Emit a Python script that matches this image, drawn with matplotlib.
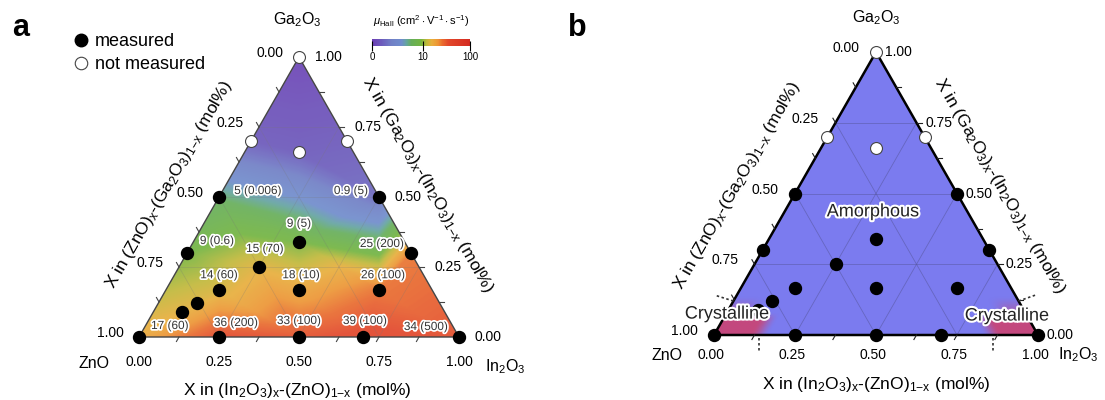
import numpy as np
import matplotlib.pyplot as plt
import matplotlib.tri as mtri
import matplotlib.patheffects as pe
from matplotlib.colors import LinearSegmentedColormap
from matplotlib.lines import Line2D
from matplotlib.patches import Polygon

plt.rcParams['font.family'] = ['Liberation Sans', 'DejaVu Sans']
plt.rcParams['mathtext.fontset'] = 'custom'
plt.rcParams['mathtext.rm'] = 'Liberation Sans'
plt.rcParams['mathtext.it'] = 'Liberation Sans:italic'
plt.rcParams['mathtext.bf'] = 'Liberation Sans:bold'

H = np.sqrt(3) / 2

# measured films: In2O3 and Ga2O3 mole fractions (ZnO is the remainder)
meas_in = [0.0, 0.5, 0.33, 0.0, 0.7, 0.25, 0.167, 0.417, 0.667, 0.12, 0.09, 0.0, 0.25, 0.5, 0.7, 1.0]
meas_ga = [0.5, 0.5, 0.34, 0.3, 0.3, 0.25, 0.167, 0.167, 0.167, 0.12, 0.09, 0.0, 0.0, 0.0, 0.0, 0.0]
# Hall mobility (cm2/Vs) and the value given in brackets
mu_hall = [5, 0.9, 9, 9, 25, 15, 14, 18, 26, np.nan, np.nan, 17, 36, 33, 39, 34]
n_carrier = [0.006, 5, 5, 0.6, 200, 70, 60, 10, 100, np.nan, np.nan, 60, 200, 100, 100, 500]

# compositions that were not measured
unmeas_in = [0.0, 0.0, 0.3, 0.17]
unmeas_ga = [1.0, 0.7, 0.7, 0.66]
# mobility level used to shade the map at the unmeasured compositions
mu_shade = [0.1, 0.5, 0.5, 0.5]

# limits of the crystalline corners in panel b
cryst_in = 0.14
cryst_ga = 0.12

cbar_ticks = [0, 10, 100]

# label offsets in pixels (dx, dy) for the mobility labels
label_off = [(39, 6), (-28, 6), (0, 18), (30, 12), (-29, 9), (6, 18), (0, 15), (2, 15),
             (4, 15), None, None, (31, 11), (17, 14), (0, 16), (2, 16), (-33, 10)]


def tern(inn, ga):
    inn = np.asarray(inn, float)
    ga = np.asarray(ga, float)
    return inn + ga / 2, ga * H


def pt(inn, ga):
    x, y = tern(inn, ga)
    return float(x), float(y)


def ramp(v, lo, hi):
    t = np.clip((hi - v) / (hi - lo), 0, 1)
    return t * t * (3 - 2 * t)


W, HP = 1105, 400
fig = plt.figure(figsize=(W / 100, HP / 100), dpi=100)


def add_tern_axes(left, base, width, height):
    ax = fig.add_axes([left / W, (HP - base) / HP, width / W, height / HP])
    ax.set_xlim(0, 1)
    ax.set_ylim(0, H)
    ax.set_axis_off()
    return ax


ax_a = add_tern_axes(139, 337, 320, 280)
ax_b = add_tern_axes(714, 335, 324, 283)

bottom_title = r'X in (In$_2$O$_3$)$_\mathrm{x}$-(ZnO)$_\mathrm{1{-}x}$ (mol%)'
left_title = r'X in (ZnO)$_\mathrm{x}$-(Ga$_2$O$_3$)$_\mathrm{1{-}x}$ (mol%)'
right_title = r'X in (Ga$_2$O$_3$)$_\mathrm{x}$-(In$_2$O$_3$)$_\mathrm{1{-}x}$ (mol%)'


def draw_frame(ax, edge_kw, grid_kw, tick_color, off):
    cx, cy = tern([0, 1, 0, 0], [0, 0, 1, 0])
    ax.plot(cx, cy, clip_on=False, zorder=4, solid_joinstyle='miter', **edge_kw)
    for v in (0.25, 0.5, 0.75):
        ax.plot(*tern([0, 1 - v], [v, v]), zorder=2, **grid_kw)
        ax.plot(*tern([v, v], [0, 1 - v]), zorder=2, **grid_kw)
        ax.plot(*tern([1 - v, 0], [0, 1 - v]), zorder=2, **grid_kw)
    # small outward ticks on the three axes
    L = 0.016
    for t in np.arange(0.125, 1.0, 0.125):
        for (x0, y0), (dx, dy) in ((pt(t, 0), (-0.5, -0.866)),
                                   (pt(0, 1 - t), (-0.5, 0.866)),
                                   (pt(1 - t, t), (1.0, 0.0))):
            ax.plot([x0, x0 + L * dx], [y0, y0 + L * dy], color=tick_color,
                    lw=0.8, clip_on=False, zorder=4)
    kw = dict(textcoords='offset pixels', ha='center', va='center', fontsize=10)
    for v in (0, 0.25, 0.5, 0.75, 1.0):
        ax.annotate(f'{v:.2f}', pt(v, 0), xytext=off['bottom'], **kw)
        ax.annotate(f'{v:.2f}', pt(0, 1 - v), xytext=off['left'], **kw)
        ax.annotate(f'{v:.2f}', pt(1 - v, v), xytext=off['right'], **kw)
    vk = dict(textcoords='offset pixels', ha='center', va='center', fontsize=11.5)
    ax.annotate('Ga$_2$O$_3$', pt(0, 1), xytext=off['ga'], **vk)
    ax.annotate('In$_2$O$_3$', pt(1, 0), xytext=off['in'], **vk)
    ax.annotate('ZnO', pt(0, 0), xytext=off['zn'], **vk)
    tk = dict(textcoords='offset pixels', ha='center', va='center', fontsize=12.5,
              rotation_mode='anchor')
    ax.annotate(bottom_title, pt(0.5, 0), xytext=off['t_bottom'], **tk)
    ax.annotate(left_title, pt(0, 0.5), xytext=off['t_left'], rotation=60, **tk)
    ax.annotate(right_title, pt(0.5, 0.5), xytext=off['t_right'], rotation=-60, **tk)


def draw_points(ax, ms):
    x, y = tern(meas_in, meas_ga)
    ax.plot(x, y, 'o', color='black', ms=ms, clip_on=False, zorder=6)
    x, y = tern(unmeas_in, unmeas_ga)
    ax.plot(x, y, 'o', mfc='white', mec='#444444', mew=0.8, ms=ms, clip_on=False, zorder=6)


# ---------------- panel a: Hall mobility map ----------------
cmap = LinearSegmentedColormap.from_list('mu', [
    (0.00, '#6b3db3'), (0.10, '#6c5cbc'), (0.20, '#7080c6'), (0.30, '#6f8ccc'),
    (0.35, '#64a4a0'), (0.40, '#66ae5a'), (0.50, '#72b440'), (0.56, '#c0b83a'),
    (0.61, '#e8ae3c'), (0.67, '#ed9634'), (0.72, '#e96a2e'), (0.78, '#e2472a'),
    (1.00, '#d42a20')])

mu = np.array(mu_hall, float)
ok = ~np.isnan(mu)
fx, fy = tern(np.r_[np.array(meas_in)[ok], unmeas_in], np.r_[np.array(meas_ga)[ok], unmeas_ga])
fz = np.log10(1 + np.r_[mu[ok], mu_shade]) / np.log10(101)
tri = mtri.Triangulation(fx, fy)
interp = mtri.LinearTriInterpolator(tri, fz)
gx, gy = np.meshgrid(np.linspace(0, 1, 600), np.linspace(0, H, 520))
field = interp(gx, gy)
cx, cy = tern([0, 1, 0], [0, 0, 1])
clip_a = Polygon(np.c_[cx, cy], closed=True, facecolor='none', edgecolor='none')
ax_a.add_patch(clip_a)
im_a = ax_a.imshow(field, extent=(0, 1, 0, H), origin='lower', aspect='auto', cmap=cmap,
                   vmin=0, vmax=1, alpha=0.92, interpolation='bilinear', zorder=1)
im_a.set_clip_path(clip_a)

draw_frame(ax_a, dict(color='#444444', lw=1.0),
           dict(color='#777777', lw=0.5, alpha=0.3), '#444444',
           dict(bottom=(0, -25), left=(-29, 4), right=(29, 0), ga=(-2, 37),
                **{'in': (46, -30)}, zn=(-45, -27), t_bottom=(-2, -53),
                t_left=(-50, 12), t_right=(49, 12)))
draw_points(ax_a, 8.6)

for i in range(len(meas_in)):
    if label_off[i] is None:
        continue
    ax_a.annotate(f'{mu_hall[i]:g} ({n_carrier[i]:g})', pt(meas_in[i], meas_ga[i]),
                  xytext=label_off[i], textcoords='offset pixels', ha='center',
                  va='center', fontsize=8.5, color='#333333', zorder=7,
                  path_effects=[pe.withStroke(linewidth=2.5, foreground='white')])

# colour bar
cax = fig.add_axes([372 / W, (HP - 46) / HP, 98 / W, 7 / HP])
sm = plt.cm.ScalarMappable(cmap=cmap, norm=plt.Normalize(0, 1))
cb = fig.colorbar(sm, cax=cax, orientation='horizontal')
cb.outline.set_visible(False)
cb.set_ticks(np.log10(1 + np.array(cbar_ticks)) / np.log10(101))
cb.set_ticklabels([str(t) for t in cbar_ticks])
cax.tick_params(direction='inout', length=7, width=0.8, labelsize=7, pad=1)
fig.text(421 / W, 1 - 21 / HP,
         r'$\mu_\mathrm{Hall}$ (cm$^2\cdot$V$^{-1}\cdot$s$^{-1}$)',
         ha='center', va='center', fontsize=8)

# legend
handles = [Line2D([], [], marker='o', ls='none', color='black', ms=9),
           Line2D([], [], marker='o', ls='none', mfc='white', mec='#444444', mew=0.8, ms=9)]
fig.legend(handles, ['measured', 'not measured'], loc='upper left',
           bbox_to_anchor=(74 / W, 1 - 33 / HP), frameon=False, fontsize=13,
           handlelength=0.8, handletextpad=0.35, labelspacing=0.35,
           borderaxespad=0, borderpad=0)

fig.text(12 / W, 1 - 28 / HP, 'a', fontsize=22, fontweight='bold', va='center')
fig.text(568 / W, 1 - 28 / HP, 'b', fontsize=22, fontweight='bold', va='center')

# ---------------- panel b: amorphous / crystalline phases ----------------
tri_patch = Polygon(np.c_[cx, cy], closed=True, facecolor='#7b7bef', edgecolor='none', zorder=1)
ax_b.add_patch(tri_patch)

g_ga = gy / H
g_in = gx - g_ga / 2
g_zn = 1 - g_in - g_ga
core = (ramp(g_in, cryst_in - 0.03, cryst_in + 0.03) + ramp(g_zn, cryst_in - 0.03, cryst_in + 0.03)) \
    * ramp(g_ga, 0.05, 0.08)
haze = (ramp(g_in, 0.04, 0.1) + ramp(g_zn, 0.04, 0.1)) * ramp(g_ga, 0.07, cryst_ga + 0.02)
alpha = np.clip(0.95 * core + 0.5 * haze, 0, 0.95)
rgba = np.zeros(gx.shape + (4,))
rgba[..., :3] = np.array([0xc8, 0x46, 0x78]) / 255
rgba[..., 3] = alpha
im = ax_b.imshow(rgba, extent=(0, 1, 0, H), origin='lower', aspect='auto',
                 interpolation='bilinear', zorder=1.5)
im.set_clip_path(tri_patch)

draw_frame(ax_b, dict(color='black', lw=1.8),
           dict(color='#555599', lw=0.6, alpha=0.55), '#222222',
           dict(bottom=(-3, -20), left=(-30, 4), right=(22, 0), ga=(0, 34),
                **{'in': (40, -20)}, zn=(-47, -20), t_bottom=(0, -49),
                t_left=(-58, 8), t_right=(43, 8)))
draw_points(ax_b, 8.6)

# dotted phase boundary marks
sx, sy = 1 / 324, H / 283
dot = dict(color='#333333', lw=1.2, ls=(0, (1.5, 1.5)), clip_on=False, zorder=5)
x0, y0 = pt(0, cryst_ga)
ax_b.plot([x0, x0 - 19 * sx], [y0, y0 + 6 * sy], **dot)
x0, y0 = pt(1 - cryst_ga, cryst_ga)
ax_b.plot([x0, x0 + 17 * sx], [y0, y0 + 6 * sy], **dot)
for xb in (cryst_in, 1 - cryst_in):
    ax_b.plot([xb, xb], [-3 * sy, -18 * sy], **dot)

halo = [pe.withStroke(linewidth=3, foreground='white')]
ax_b.text(0.04, 0.064, 'Crystalline', ha='center', va='center', fontsize=13,
          color='#222222', path_effects=halo, zorder=7)
ax_b.text(0.904, 0.058, 'Crystalline', ha='center', va='center', fontsize=13,
          color='#222222', path_effects=halo, zorder=7)
ax_b.text(0.49, 0.435 * H, 'Amorphous', ha='center', va='center', fontsize=13,
          color='#222222', path_effects=halo, zorder=7)

fig.savefig('out.png', dpi=100)
